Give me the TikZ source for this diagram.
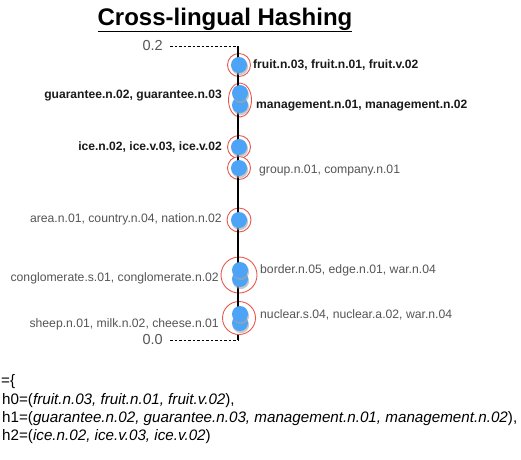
\documentclass[tikz,border=0pt]{standalone}
\usepackage{fontspec}
\setmainfont{Liberation Sans}
\definecolor{dotblue}{HTML}{4DA3F5}
\definecolor{ringred}{HTML}{E8574E}
\definecolor{lblgray}{HTML}{555555}
\definecolor{lblblack}{HTML}{1A1A1A}
\tikzset{
  dot/.style={fill=dotblue, draw=none},
  shadowdot/.style={fill=black!35, draw=none, opacity=0.6},
  ring/.style={draw=ringred, line width=0.9pt},
  boldlbl/.style={font=\fontsize{12.1}{14}\selectfont\bfseries, text=lblblack, inner sep=0pt},
  graylbl/.style={font=\fontsize{12.2}{14}\selectfont, text=lblgray, inner sep=0pt},
  ticklbl/.style={font=\fontsize{14.5}{16}\selectfont, text=lblgray, inner sep=0pt},
  guide/.style={dashed, dash pattern=on 2.5pt off 2pt, line width=1pt},
  codeline/.style={font=\fontsize{15.2}{17}\selectfont, text=black, inner sep=0pt, anchor=west},
}
\newcommand{\onedot}[2]{%
  \fill[shadowdot] (#1+0.8,#2+1.8) circle (8.3);
  \fill[dot] (#1,#2) circle (8);
}
\begin{document}
\begin{tikzpicture}[x=1pt,y=-1pt]
\useasboundingbox (0,0) rectangle (521,459);
\fill[white] (0,0) rectangle (521,459);
% title
\node[font=\fontsize{24}{27}\selectfont\bfseries, inner sep=0pt] (title) at (225,20) {\underline{Cross-lingual Hashing}};
% axis
\coordinate (top) at (238,46);
\coordinate (bot) at (238,340);
\coordinate (topl) at (170,46);
\coordinate (botl) at (170,340);
\node[ticklbl, anchor=east] (t02) at (163,46) {0.2};
\node[ticklbl, anchor=east] (t00) at (163,339) {0.0};
\draw[guide] (topl) -- (top);
\draw[guide] (botl) -- (bot);
\draw[line width=1.1pt] (top) -- (bot);
% rings
\draw[ring, fill=white] (239,65) circle (11.5);
\draw[ring, fill=white] (240,100) ellipse (11.5 and 17);
\draw[ring, fill=white] (239,147) circle (11.5);
\draw[ring, fill=white] (239,168) circle (11.5);
\draw[ring, fill=white] (239,220) circle (12);
\draw[ring, fill=white] (239,275) circle (18);
\draw[ring, fill=white] (239,318) circle (16.5);
% axis visible inside rings
\draw[line width=1.1pt] (238,53) -- (238,330);
% dots
\onedot{239}{65}
\onedot{240}{105}
\onedot{240}{93}
\onedot{239}{147}
\onedot{239}{168}
\onedot{239}{220}
\onedot{240}{279}
\onedot{240}{270}
\onedot{240}{323}
\onedot{240}{314}
% labels
\node[boldlbl, anchor=west] (l1) at (253,65) {fruit.n.03, fruit.n.01, fruit.v.02};
\node[boldlbl, anchor=east] (l2a) at (222,96) {guarantee.n.02, guarantee.n.03};
\node[boldlbl, anchor=west] (l2b) at (256,106) {management.n.01, management.n.02};
\node[boldlbl, anchor=east] (l3) at (222,147) {ice.n.02, ice.v.03, ice.v.02};
\node[graylbl, anchor=west] (l4) at (259,170) {group.n.01, company.n.01};
\node[graylbl, anchor=east] (l5) at (222,219) {area.n.01, country.n.04, nation.n.02};
\node[graylbl, anchor=east] (l6a) at (219,278) {conglomerate.s.01, conglomerate.n.02};
\node[graylbl, anchor=west] (l6b) at (260,270) {border.n.05, edge.n.01, war.n.04};
\node[graylbl, anchor=east] (l7a) at (219,324) {sheep.n.01, milk.n.02, cheese.n.01};
\node[graylbl, anchor=west] (l7b) at (260,315) {nuclear.s.04, nuclear.a.02, war.n.04};
% code
\node[codeline] (c0) at (1,382) {=\{};
\node[codeline] (c1) at (2,401) {h0=(\textit{fruit.n.03, fruit.n.01, fruit.v.02}),};
\node[codeline] (c2) at (2,419) {h1=(\textit{guarantee.n.02, guarantee.n.03, management.n.01, management.n.02}),};
\node[codeline] (c3) at (2,437) {h2=(\textit{ice.n.02, ice.v.03, ice.v.02})};
\end{tikzpicture}
\end{document}
